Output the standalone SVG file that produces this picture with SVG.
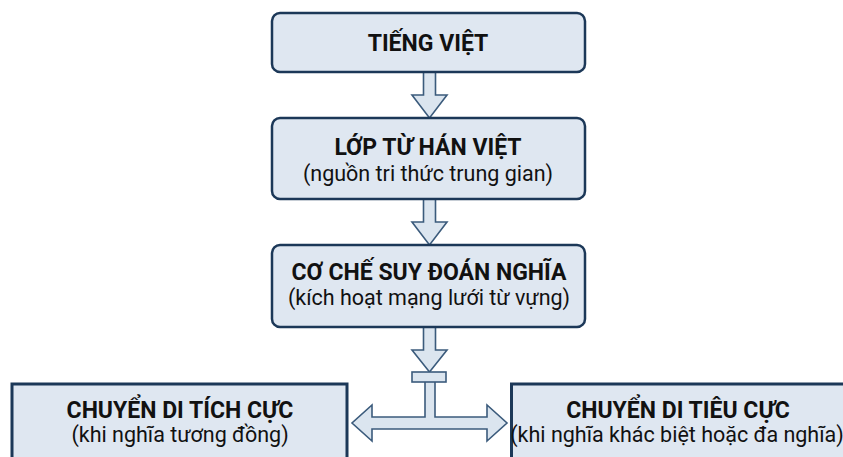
<svg xmlns="http://www.w3.org/2000/svg" width="843" height="457" viewBox="0 0 843 457">
<style>
.box{fill:#dfe7f1;stroke:#1c3858;stroke-width:2.5}
.sq{fill:#dfe7f1;stroke:#1c3858;stroke-width:3}
.arr{fill:#dbe5ef;stroke:#3b5b7c;stroke-width:1.6;stroke-linejoin:miter}
.t{font-family:Roboto,"Liberation Sans",sans-serif;font-weight:bold;font-size:23px;fill:#111;text-anchor:middle}
.s{font-family:Roboto,"Liberation Sans",sans-serif;font-size:21.5px;fill:#111;text-anchor:middle}
</style>
<rect width="843" height="457" fill="#ffffff"/>
<g id="connectors">
<path class="arr" d="M423.5,70 V95 H412 L429.5,118 L447,95 H435.5 V70 Z"/>
<path class="arr" d="M423.5,197 V222 H412 L429.5,245 L447,222 H435.5 V197 Z"/>
<path class="arr" d="M423.5,325 V350 H412 L429.5,372 L447,350 H435.5 V325 Z"/>
<path class="arr" d="M425,380 V417 H372 V405 L352,423 L372,441 V429 H487 V441 L507,423 L487,405 V417 H435 V380 Z"/>
<rect class="arr" x="412" y="372" width="34" height="10"/>
</g>
<g id="n1">
<rect class="box" x="272" y="13" width="313" height="59" rx="8"/>
<text class="t" x="428" y="51">TIẾNG VIỆT</text>
</g>
<g id="n2">
<rect class="box" x="272" y="118" width="313" height="81" rx="8"/>
<text class="t" x="428" y="155">LỚP TỪ HÁN VIỆT</text>
<text class="s" x="428" y="181">(nguồn tri thức trung gian)</text>
</g>
<g id="n3">
<rect class="box" x="272" y="245" width="313" height="82" rx="8"/>
<text class="t" x="429" y="280">CƠ CHẾ SUY ĐOÁN NGHĨA</text>
<text class="s" x="429" y="305">(kích hoạt mạng lưới từ vựng)</text>
</g>
<g id="n4">
<rect class="sq" x="12" y="384" width="335" height="90"/>
<text class="t" x="180" y="418">CHUYỂN DI TÍCH CỰC</text>
<text class="s" x="180" y="442">(khi nghĩa tương đồng)</text>
</g>
<g id="n5">
<rect class="sq" x="511.5" y="384" width="345" height="90"/>
<text class="t" x="678" y="418">CHUYỂN DI TIÊU CỰC</text>
<text class="s" x="677" y="442">(khi nghĩa khác biệt hoặc đa nghĩa)</text>
</g>
</svg>
